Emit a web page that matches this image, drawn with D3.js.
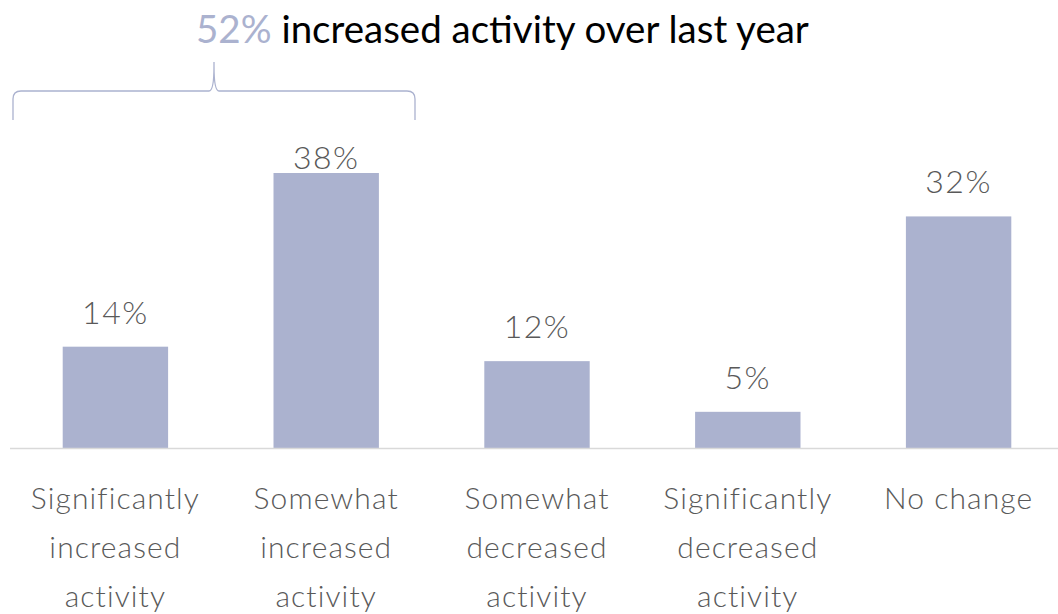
<!DOCTYPE html>
<html>
<head>
<meta charset="utf-8">
<script src="https://cdn.jsdelivr.net/npm/d3@7"></script>
<style>
  html, body { margin: 0; padding: 0; background: #fff; }
  svg { display: block; font-family: "Lato", "Open Sans", sans-serif; }
</style>
</head>
<body>
<svg id="chart" width="1058" height="614"></svg>
<script>
// Survey responses: change in activity over last year
const categories = [
  ["Significantly", "increased", "activity"],
  ["Somewhat", "increased", "activity"],
  ["Somewhat", "decreased", "activity"],
  ["Significantly", "decreased", "activity"],
  ["No change"]
];
const values = [14, 38, 12, 5, 32];
const valueLabels = ["14%", "38%", "12%", "5%", "32%"];
const headlineValue = "52%";
const headlineText = " increased activity over last year";

const svg = d3.select("#chart");
const barColor = "#abb2cf";
const labelColor = "#595959";

const keys = categories.map((c, i) => i);
const x = d3.scaleBand().domain(keys).range([10, 1064]).paddingInner(0.5).paddingOuter(0.25);
const y = d3.scaleLinear().domain([0, 38]).range([448, 173]);

// bars
svg.append("g").selectAll("rect").data(values).join("rect")
  .attr("x", (d, i) => x(i))
  .attr("width", x.bandwidth())
  .attr("y", d => y(d))
  .attr("height", d => y(0) - y(d))
  .attr("fill", barColor);

// baseline
svg.append("line")
  .attr("x1", 10).attr("x2", 1058)
  .attr("y1", 448.5).attr("y2", 448.5)
  .attr("stroke", "#d9d9d9").attr("stroke-width", 1.5);

// value labels above bars
svg.append("g").selectAll("text").data(values).join("text")
  .attr("x", (d, i) => x(i) + x.bandwidth() / 2)
  .attr("y", d => Math.max(y(d) - 23, 169))
  .attr("text-anchor", "middle")
  .attr("font-size", 32)
  .attr("font-weight", 300)
  .attr("letter-spacing", 1.5)
  .attr("fill", labelColor)
  .text((d, i) => valueLabels[i]);

// category labels (multi-line)
const cat = svg.append("g").selectAll("text").data(categories).join("text")
  .attr("text-anchor", "middle")
  .attr("font-size", 30)
  .attr("font-weight", 300)
  .attr("letter-spacing", 1.1)
  .attr("fill", labelColor);
cat.selectAll("tspan").data((d, i) => d.map(line => ({ line, i }))).join("tspan")
  .attr("x", d => x(d.i) + x.bandwidth() / 2)
  .attr("y", (d, j) => 509 + j * 49)
  .text(d => d.line);

// brace spanning the two "increased" bars
const bx0 = 13, bx1 = 415, bMid = (bx0 + bx1) / 2, bTop = 91, bEnd = 120, bTip = 62;
const brace = d3.path();
brace.moveTo(bx0, bEnd);
brace.lineTo(bx0, bTop + 8);
brace.quadraticCurveTo(bx0, bTop, bx0 + 8, bTop);
brace.lineTo(bMid - 5, bTop);
brace.quadraticCurveTo(bMid, bTop, bMid, bTip + 4);
brace.lineTo(bMid, bTip);
brace.moveTo(bMid, bTip + 4);
brace.quadraticCurveTo(bMid, bTop, bMid + 5, bTop);
brace.lineTo(bx1 - 8, bTop);
brace.quadraticCurveTo(bx1, bTop, bx1, bTop + 8);
brace.lineTo(bx1, bEnd);
svg.append("path")
  .attr("d", brace.toString())
  .attr("fill", "none")
  .attr("stroke", barColor)
  .attr("stroke-width", 1.3);

// headline
const head = svg.append("text")
  .attr("x", 196).attr("y", 43)
  .attr("font-size", 38.5);
head.append("tspan").attr("fill", barColor).text(headlineValue);
head.append("tspan").attr("fill", "#000").text(headlineText);
</script>
</body>
</html>
